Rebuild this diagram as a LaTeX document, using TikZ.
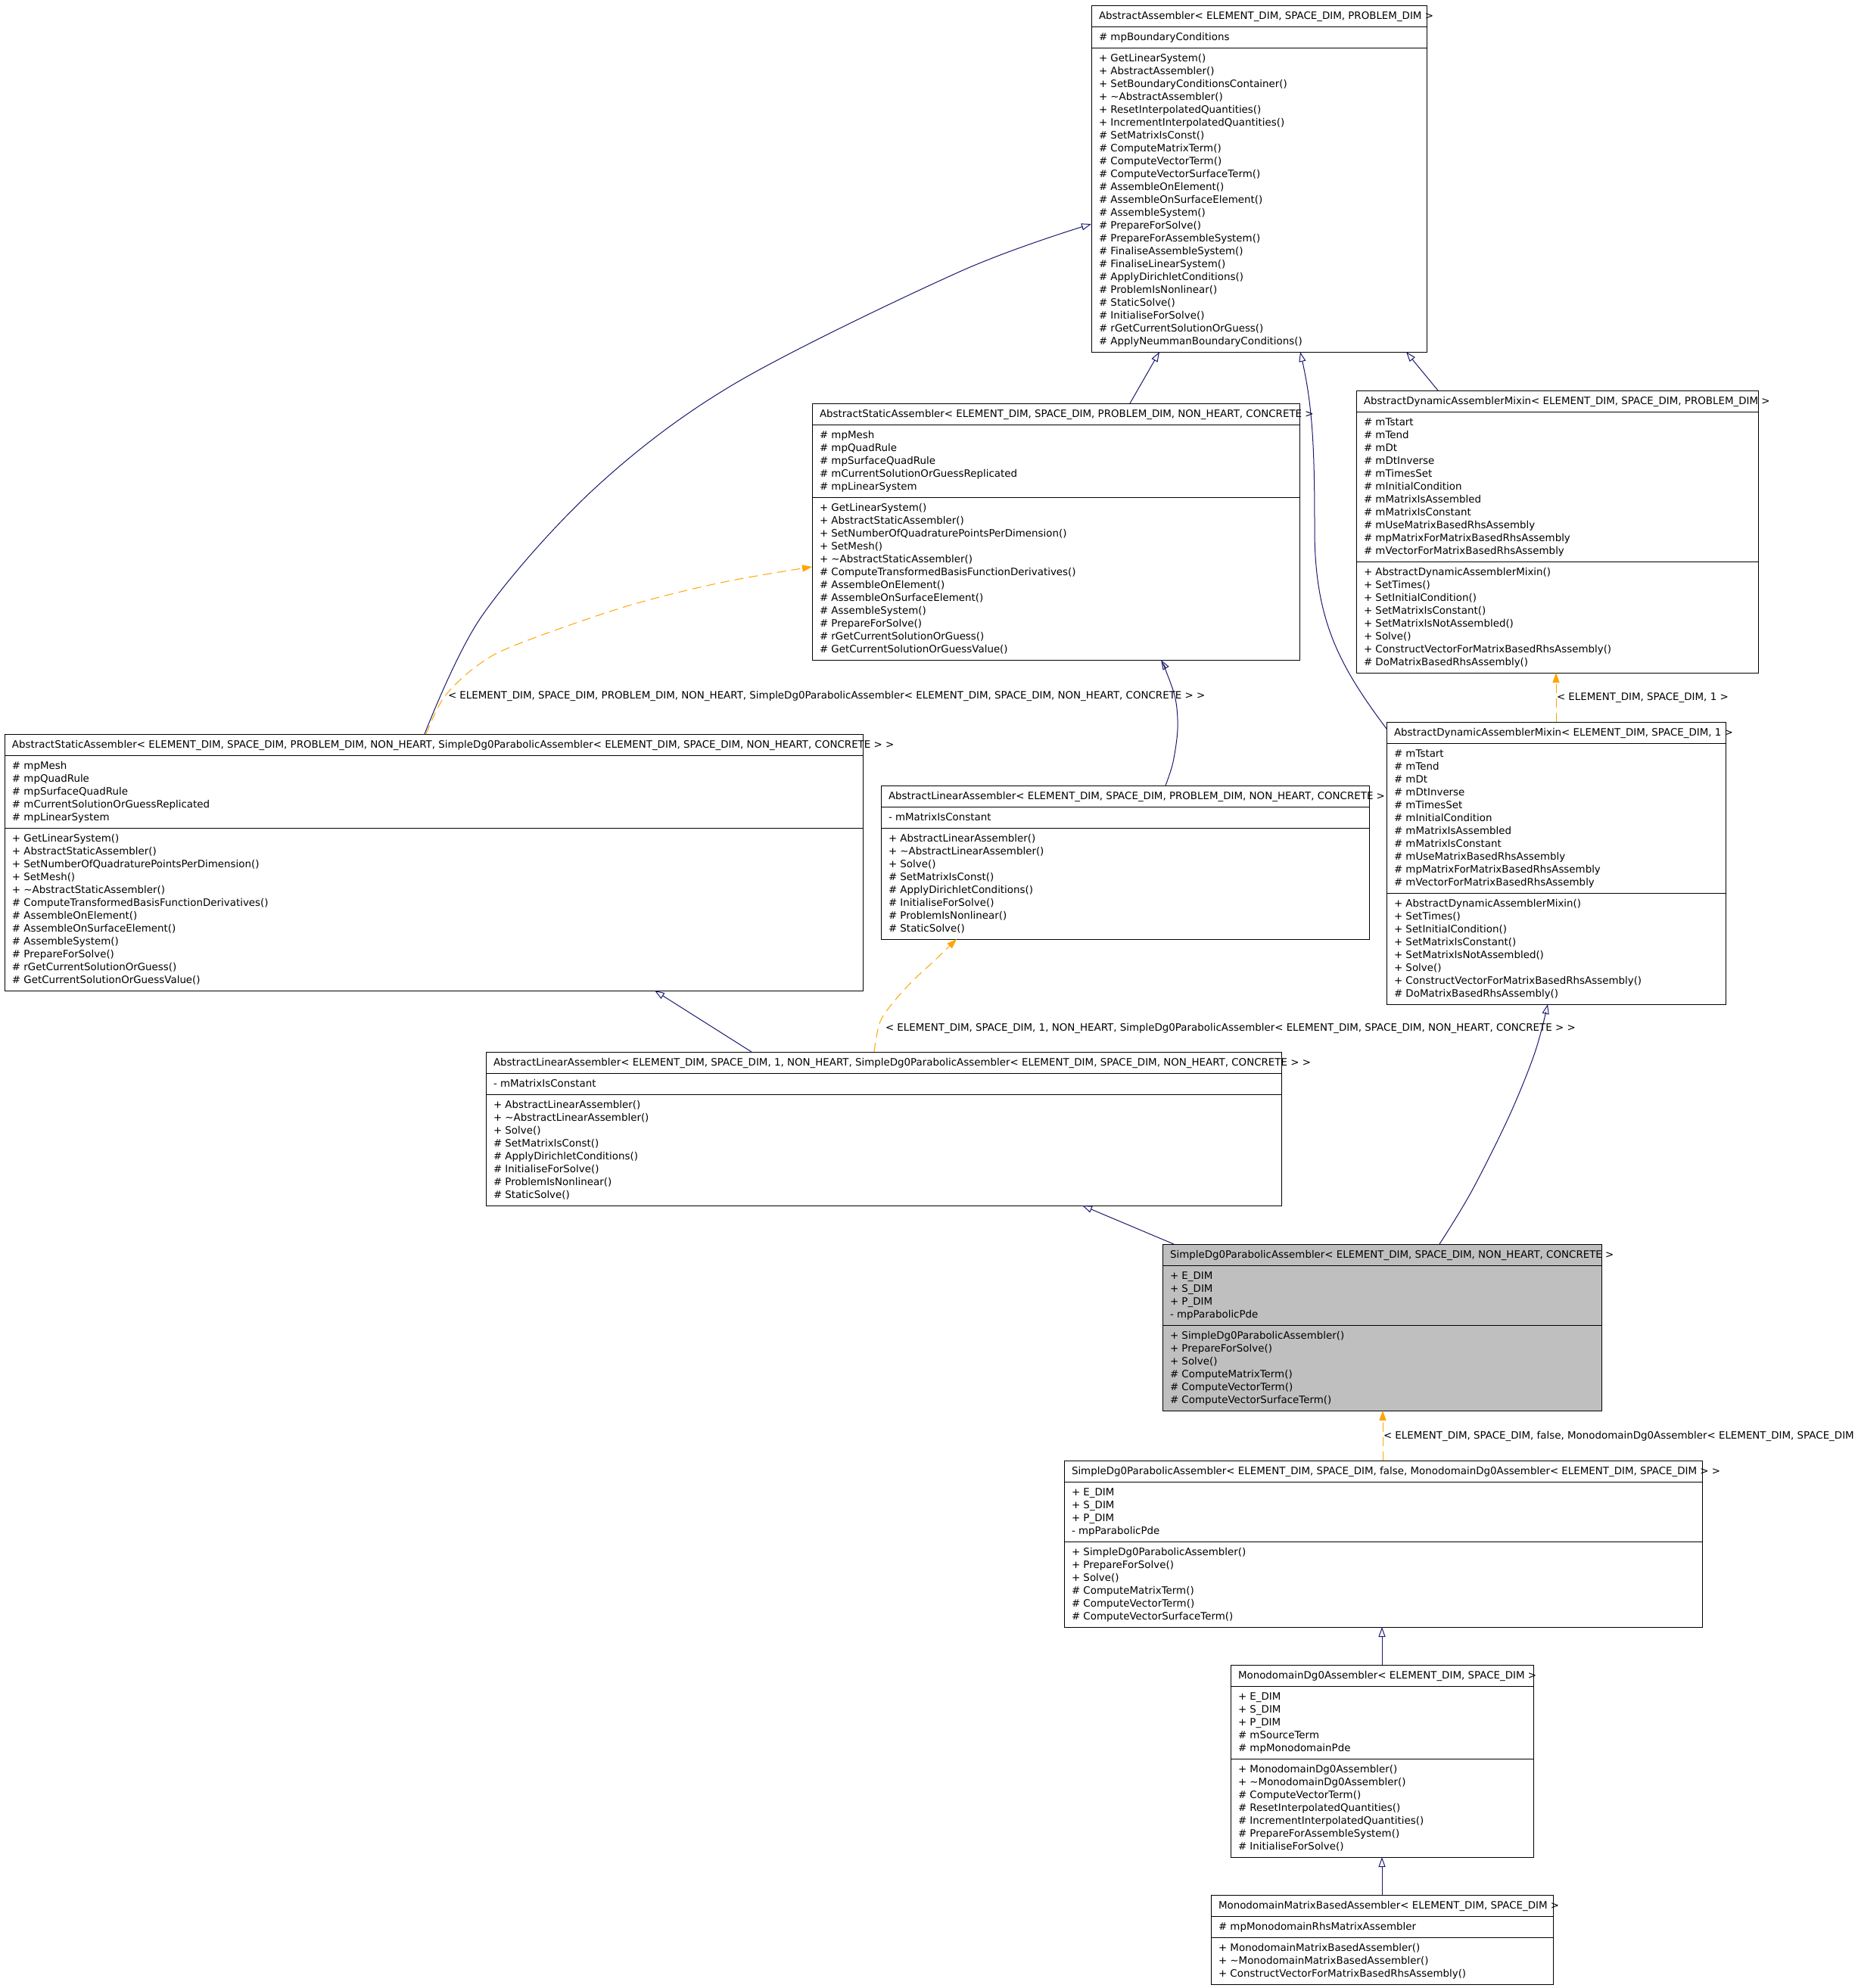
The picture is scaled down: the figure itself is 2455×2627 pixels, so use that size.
\documentclass[tikz,border=0pt]{standalone}
\usepackage{fontspec}
\setmainfont{DejaVu Sans}
\usetikzlibrary{arrows.meta}
\definecolor{edgeblue}{HTML}{191970}
\definecolor{tmplorange}{HTML}{FFA500}
\definecolor{boxgray}{HTML}{BFBFBF}
\tikzset{
  box/.style={draw=black, line width=1pt, inner sep=0pt, outer sep=0pt},
  sep/.style={draw=black, line width=1pt},
  txt/.style={inner sep=0pt, outer sep=0pt, font=\fontsize{13.4pt}{17pt}\selectfont},
  inh/.style={draw=edgeblue, line width=1pt, -{Triangle[open, length=13pt, width=9pt]}},
  tmpl/.style={draw=tmplorange, line width=1pt, dash pattern=on 12pt off 7pt, -{Triangle[length=13pt, width=9pt, fill=tmplorange]}},
}
\newcommand\umlbox[7]{%
  \pgfmathsetmacro\hA{17*#5+11}%
  \pgfmathsetmacro\hM{17*#6+11}%
  \pgfmathsetmacro\hT{28+\hA+\hM}%
  \node[box, fill=#7, minimum width=#4pt, minimum height=\hT pt, anchor=north west] (#1) at (#2,#3) {};
  \pgfmathsetmacro\yA{#3+28}%
  \pgfmathsetmacro\yM{#3+28+\hA}%
  \pgfmathsetmacro\sA{-28}%
  \pgfmathsetmacro\sM{-28-\hA}%
  \draw[sep] ([yshift=\sA pt]#1.north west) -- ([yshift=\sA pt]#1.north east);
  \draw[sep] ([yshift=\sM pt]#1.north west) -- ([yshift=\sM pt]#1.north east);
  \pgfmathsetmacro\xT{#2+10}%
  \pgfmathsetmacro\yTb{#3+18}%
  \pgfmathsetmacro\yAb{\yA+18.5}%
  \pgfmathsetmacro\yMb{\yM+18.5}%
}
\newcommand\umltitle[2]{\node[txt, anchor=base west] (#1-t) at (\xT,\yTb) {#2};}
\newcommand\umllines[3]{%
  \foreach \t [count=\i] in {#3} {\node[txt, anchor=base west] (#1-\i) at (\xT, {#2+17*(\i-1)}) {\ignorespaces\t};}%
}
\begin{document}
\begin{tikzpicture}[x=1pt, y=-1pt]
\fill[white] (0,0) rectangle (2455,2627);
\clip (0,0) rectangle (2455,2627);

% ---------- b1 AbstractAssembler
\umlbox{b1}{1442}{7}{443}{1}{23}{white}
\umltitle{b1}{AbstractAssembler< ELEMENT\_DIM, SPACE\_DIM, PROBLEM\_DIM >}
\umllines{b1a}{\yAb}{\# mpBoundaryConditions}
\umllines{b1m}{\yMb}{+ GetLinearSystem(),
+ AbstractAssembler(),
+ SetBoundaryConditionsContainer(),
+ \textasciitilde{}AbstractAssembler(),
+ ResetInterpolatedQuantities(),
+ IncrementInterpolatedQuantities(),
\# SetMatrixIsConst(),
\# ComputeMatrixTerm(),
\# ComputeVectorTerm(),
\# ComputeVectorSurfaceTerm(),
\# AssembleOnElement(),
\# AssembleOnSurfaceElement(),
\# AssembleSystem(),
\# PrepareForSolve(),
\# PrepareForAssembleSystem(),
\# FinaliseAssembleSystem(),
\# FinaliseLinearSystem(),
\# ApplyDirichletConditions(),
\# ProblemIsNonlinear(),
\# StaticSolve(),
\# InitialiseForSolve(),
\# rGetCurrentSolutionOrGuess(),
\# ApplyNeummanBoundaryConditions()}

% ---------- b2 AbstractStaticAssembler
\umlbox{b2}{1073}{533}{644}{5}{12}{white}
\umltitle{b2}{AbstractStaticAssembler< ELEMENT\_DIM, SPACE\_DIM, PROBLEM\_DIM, NON\_HEART, CONCRETE >}
\umllines{b2a}{\yAb}{\# mpMesh,
\# mpQuadRule,
\# mpSurfaceQuadRule,
\# mCurrentSolutionOrGuessReplicated,
\# mpLinearSystem}
\umllines{b2m}{\yMb}{+ GetLinearSystem(),
+ AbstractStaticAssembler(),
+ SetNumberOfQuadraturePointsPerDimension(),
+ SetMesh(),
+ \textasciitilde{}AbstractStaticAssembler(),
\# ComputeTransformedBasisFunctionDerivatives(),
\# AssembleOnElement(),
\# AssembleOnSurfaceElement(),
\# AssembleSystem(),
\# PrepareForSolve(),
\# rGetCurrentSolutionOrGuess(),
\# GetCurrentSolutionOrGuessValue()}

% ---------- b3 AbstractDynamicAssemblerMixin
\umlbox{b3}{1792}{516}{531}{11}{8}{white}
\umltitle{b3}{AbstractDynamicAssemblerMixin< ELEMENT\_DIM, SPACE\_DIM, PROBLEM\_DIM >}
\umllines{b3a}{\yAb}{\# mTstart,
\# mTend,
\# mDt,
\# mDtInverse,
\# mTimesSet,
\# mInitialCondition,
\# mMatrixIsAssembled,
\# mMatrixIsConstant,
\# mUseMatrixBasedRhsAssembly,
\# mpMatrixForMatrixBasedRhsAssembly,
\# mVectorForMatrixBasedRhsAssembly}
\umllines{b3m}{\yMb}{+ AbstractDynamicAssemblerMixin(),
+ SetTimes(),
+ SetInitialCondition(),
+ SetMatrixIsConstant(),
+ SetMatrixIsNotAssembled(),
+ Solve(),
+ ConstructVectorForMatrixBasedRhsAssembly(),
\# DoMatrixBasedRhsAssembly()}

% ---------- b4 AbstractStaticAssembler (instantiated)
\umlbox{b4}{6}{970}{1134}{5}{12}{white}
\umltitle{b4}{AbstractStaticAssembler< ELEMENT\_DIM, SPACE\_DIM, PROBLEM\_DIM, NON\_HEART, SimpleDg0ParabolicAssembler< ELEMENT\_DIM, SPACE\_DIM, NON\_HEART, CONCRETE > >}
\umllines{b4a}{\yAb}{\# mpMesh,
\# mpQuadRule,
\# mpSurfaceQuadRule,
\# mCurrentSolutionOrGuessReplicated,
\# mpLinearSystem}
\umllines{b4m}{\yMb}{+ GetLinearSystem(),
+ AbstractStaticAssembler(),
+ SetNumberOfQuadraturePointsPerDimension(),
+ SetMesh(),
+ \textasciitilde{}AbstractStaticAssembler(),
\# ComputeTransformedBasisFunctionDerivatives(),
\# AssembleOnElement(),
\# AssembleOnSurfaceElement(),
\# AssembleSystem(),
\# PrepareForSolve(),
\# rGetCurrentSolutionOrGuess(),
\# GetCurrentSolutionOrGuessValue()}

% ---------- b5 AbstractLinearAssembler
\umlbox{b5}{1164}{1038}{645}{1}{8}{white}
\umltitle{b5}{AbstractLinearAssembler< ELEMENT\_DIM, SPACE\_DIM, PROBLEM\_DIM, NON\_HEART, CONCRETE >}
\umllines{b5a}{\yAb}{- mMatrixIsConstant}
\umllines{b5m}{\yMb}{+ AbstractLinearAssembler(),
+ \textasciitilde{}AbstractLinearAssembler(),
+ Solve(),
\# SetMatrixIsConst(),
\# ApplyDirichletConditions(),
\# InitialiseForSolve(),
\# ProblemIsNonlinear(),
\# StaticSolve()}

% ---------- b6 AbstractDynamicAssemblerMixin<1>
\umlbox{b6}{1832}{954}{448}{11}{8}{white}
\umltitle{b6}{AbstractDynamicAssemblerMixin< ELEMENT\_DIM, SPACE\_DIM, 1 >}
\umllines{b6a}{\yAb}{\# mTstart,
\# mTend,
\# mDt,
\# mDtInverse,
\# mTimesSet,
\# mInitialCondition,
\# mMatrixIsAssembled,
\# mMatrixIsConstant,
\# mUseMatrixBasedRhsAssembly,
\# mpMatrixForMatrixBasedRhsAssembly,
\# mVectorForMatrixBasedRhsAssembly}
\umllines{b6m}{\yMb}{+ AbstractDynamicAssemblerMixin(),
+ SetTimes(),
+ SetInitialCondition(),
+ SetMatrixIsConstant(),
+ SetMatrixIsNotAssembled(),
+ Solve(),
+ ConstructVectorForMatrixBasedRhsAssembly(),
\# DoMatrixBasedRhsAssembly()}

% ---------- b7 AbstractLinearAssembler (instantiated)
\umlbox{b7}{642}{1390}{1051}{1}{8}{white}
\umltitle{b7}{AbstractLinearAssembler< ELEMENT\_DIM, SPACE\_DIM, 1, NON\_HEART, SimpleDg0ParabolicAssembler< ELEMENT\_DIM, SPACE\_DIM, NON\_HEART, CONCRETE > >}
\umllines{b7a}{\yAb}{- mMatrixIsConstant}
\umllines{b7m}{\yMb}{+ AbstractLinearAssembler(),
+ \textasciitilde{}AbstractLinearAssembler(),
+ Solve(),
\# SetMatrixIsConst(),
\# ApplyDirichletConditions(),
\# InitialiseForSolve(),
\# ProblemIsNonlinear(),
\# StaticSolve()}

% ---------- b8 SimpleDg0ParabolicAssembler (focus)
\umlbox{b8}{1536}{1644}{580}{4}{6}{boxgray}
\umltitle{b8}{SimpleDg0ParabolicAssembler< ELEMENT\_DIM, SPACE\_DIM, NON\_HEART, CONCRETE >}
\umllines{b8a}{\yAb}{+ E\_DIM,
+ S\_DIM,
+ P\_DIM,
- mpParabolicPde}
\umllines{b8m}{\yMb}{+ SimpleDg0ParabolicAssembler(),
+ PrepareForSolve(),
+ Solve(),
\# ComputeMatrixTerm(),
\# ComputeVectorTerm(),
\# ComputeVectorSurfaceTerm()}

% ---------- b9 SimpleDg0ParabolicAssembler (instantiated)
\umlbox{b9}{1406}{1930}{843}{4}{6}{white}
\umltitle{b9}{SimpleDg0ParabolicAssembler< ELEMENT\_DIM, SPACE\_DIM, false, MonodomainDg0Assembler< ELEMENT\_DIM, SPACE\_DIM > >}
\umllines{b9a}{\yAb}{+ E\_DIM,
+ S\_DIM,
+ P\_DIM,
- mpParabolicPde}
\umllines{b9m}{\yMb}{+ SimpleDg0ParabolicAssembler(),
+ PrepareForSolve(),
+ Solve(),
\# ComputeMatrixTerm(),
\# ComputeVectorTerm(),
\# ComputeVectorSurfaceTerm()}

% ---------- b10 MonodomainDg0Assembler
\umlbox{b10}{1626}{2200}{400}{5}{7}{white}
\umltitle{b10}{MonodomainDg0Assembler< ELEMENT\_DIM, SPACE\_DIM >}
\umllines{b10a}{\yAb}{+ E\_DIM,
+ S\_DIM,
+ P\_DIM,
\# mSourceTerm,
\# mpMonodomainPde}
\umllines{b10m}{\yMb}{+ MonodomainDg0Assembler(),
+ \textasciitilde{}MonodomainDg0Assembler(),
\# ComputeVectorTerm(),
\# ResetInterpolatedQuantities(),
\# IncrementInterpolatedQuantities(),
\# PrepareForAssembleSystem(),
\# InitialiseForSolve()}

% ---------- b11 MonodomainMatrixBasedAssembler
\umlbox{b11}{1600}{2504}{452}{1}{3}{white}
\umltitle{b11}{MonodomainMatrixBasedAssembler< ELEMENT\_DIM, SPACE\_DIM >}
\umllines{b11a}{\yAb}{\# mpMonodomainRhsMatrixAssembler}
\umllines{b11m}{\yMb}{+ MonodomainMatrixBasedAssembler(),
+ \textasciitilde{}MonodomainMatrixBasedAssembler(),
+ ConstructVectorForMatrixBasedRhsAssembly()}

% ---------- connector end points
\coordinate (e4s) at ([xshift=555pt]b4.north west);
\coordinate (e4t) at ([yshift=-289pt]b1.north west);
\coordinate (e5s) at ([xshift=557pt]b4.north west);
\coordinate (e5t) at ([yshift=-216pt]b2.north west);
\coordinate (e6s) at ([xshift=376pt]b5.north west);
\coordinate (e6t) at ([xshift=461pt]b2.south west);
\coordinate (e8s) at ([xshift=513pt]b7.north west);
\coordinate (e8t) at ([xshift=100pt]b5.south west);
\coordinate (e10s) at ([xshift=366pt]b8.north west);
\coordinate (e10t) at ([xshift=213pt]b6.south west);

% ---------- connectors
\draw[inh] ([xshift=420pt]b2.north west) -- ([xshift=90pt]b1.south west);
\draw[inh] ([yshift=-9pt]b6.north west) .. controls (1770,880) and (1737,820) .. (1737,700) .. controls (1737,600) and (1735,540) .. ([xshift=276pt]b1.south west);
\draw[inh] ([xshift=108pt]b3.north west) -- ([xshift=416pt]b1.south west);
\draw[inh] plot[smooth, tension=0.55] coordinates {(e4s) (636,815) (785,646) (969,508) (1268,359) (e4t)};
\draw[tmpl] plot[smooth, tension=0.55] coordinates {(e5s) (587,921) (630,880) (682,852) (825,802) (952,770) (e5t)};
\draw[inh] plot[smooth, tension=0.55] coordinates {(e6s) (1550,1007) (1556,963) (1553,923) (1540,885) (e6t)};
\draw[inh] ([xshift=351pt]b7.north west) -- ([xshift=859pt]b4.south west);
\draw[tmpl] plot[smooth, tension=0.55] coordinates {(e8s) (1163,1350) (1184,1320) (1209,1293) (1234,1270) (e8t)};
\draw[inh] ([xshift=15pt]b8.north west) -- ([xshift=788pt]b7.south west);
\draw[inh] plot[smooth, tension=0.55] coordinates {(e10s) (1944,1575) (1994,1475) (2028,1391) (e10t)};
\draw[tmpl] ([xshift=224pt]b6.north west) -- ([xshift=264pt]b3.south west);
\draw[tmpl] ([xshift=421pt]b9.north west) -- ([xshift=291pt]b8.south west);
\draw[inh] ([xshift=200pt]b10.north west) -- ([xshift=420pt]b9.south west);
\draw[inh] ([xshift=226pt]b11.north west) -- ([xshift=200pt]b10.south west);

% ---------- connector labels
\node[txt, anchor=base west] (l5) at (592,923) {< ELEMENT\_DIM, SPACE\_DIM, PROBLEM\_DIM, NON\_HEART, SimpleDg0ParabolicAssembler< ELEMENT\_DIM, SPACE\_DIM, NON\_HEART, CONCRETE > >};
\node[txt, anchor=base west] (l8) at (1170,1362) {< ELEMENT\_DIM, SPACE\_DIM, 1, NON\_HEART, SimpleDg0ParabolicAssembler< ELEMENT\_DIM, SPACE\_DIM, NON\_HEART, CONCRETE > >};
\node[txt, anchor=base west] (l11) at (2057,925) {< ELEMENT\_DIM, SPACE\_DIM, 1 >};
\node[txt, anchor=base west] (l12) at (1828,1901) {< ELEMENT\_DIM, SPACE\_DIM, false, MonodomainDg0Assembler< ELEMENT\_DIM, SPACE\_DIM > >};
\end{tikzpicture}
\end{document}
